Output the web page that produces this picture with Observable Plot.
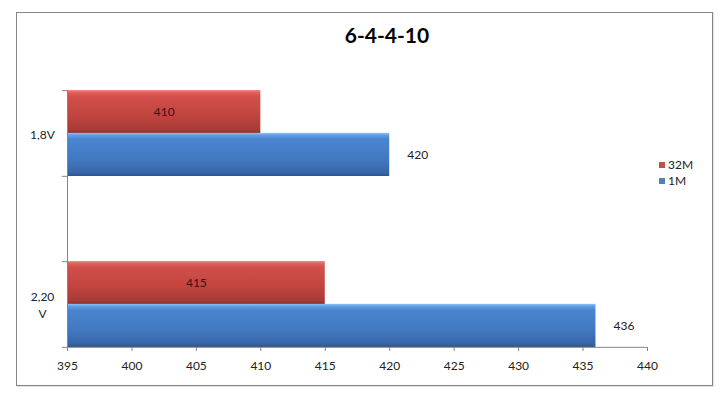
<!DOCTYPE html>
<html>
<head>
<meta charset="utf-8">
<script src="https://cdn.jsdelivr.net/npm/d3@7"></script>
<script src="https://cdn.jsdelivr.net/npm/@observablehq/plot@0.6"></script>
<style>
  html, body { margin: 0; padding: 0; background: #fff; }
  #wrap { position: relative; width: 726px; height: 398px; font-family: Lato, "Open Sans", sans-serif; }
  #border { position: absolute; left: 16px; top: 12px; width: 695px; height: 372px; border: 1px solid #868686; pointer-events: none; box-shadow: 1px 1px 1px #e4e4e4; }
  #title { position: absolute; left: 287px; width: 200px; top: 22px; text-align: center; font-weight: bold; font-size: 21px; color: #000; }
  #legend { position: absolute; left: 659px; top: 157px; font-size: 12px; color: #222; line-height: 16px; }
  #legend .sw { display: inline-block; width: 6px; height: 6px; margin-right: 3px; vertical-align: 1px; }
  #chart { position: absolute; left: 0; top: 0; }
</style>
</head>
<body>
<div id="wrap">
  <div id="chart"></div>
  <div id="border"></div>
  <div id="title"></div>
  <div id="legend"></div>
</div>
<script>
const title = "6-4-4-10";
const categories = ["1,8V", "2,20 V"];
const seriesNames = ["32M", "1M"];
const values32M = [410, 415];
const values1M = [420, 436];
const xTicks = [395, 400, 405, 410, 415, 420, 425, 430, 435, 440];
const baseline = 395;
const xMax = 440;
const seriesColors = ["#c0504d", "#4f81bd"];

const rows32 = categories.map((c, i) => ({cat: c, value: values32M[i]}));
const rows1 = categories.map((c, i) => ({cat: c, value: values1M[i]}));

const barH = 257 / 3 / 2; // one bar's height in px (a category band holds 2 bars)

const plot = Plot.plot({
  width: 726,
  height: 398,
  marginLeft: 67,
  marginRight: 79,
  marginTop: 90,
  marginBottom: 51,
  style: {background: "transparent", fontFamily: "Lato, 'Open Sans', sans-serif", fontSize: "12px", color: "#222"},
  x: {domain: [baseline, xMax], ticks: xTicks, tickSize: 4, tickPadding: 10, label: null},
  y: {domain: categories, paddingInner: 0.5, paddingOuter: 0, axis: null},
  marks: [
    Plot.barX(rows32, {y: "cat", x1: () => baseline, x2: "value", fill: "url(#gRed)", insetBottom: barH, insetTop: 0}),
    Plot.barX(rows1, {y: "cat", x1: () => baseline, x2: "value", fill: "url(#gBlue)", insetTop: barH, insetBottom: 0}),
    Plot.ruleX([baseline], {stroke: "#868686"}),
    Plot.ruleY(categories, {y: d => d, x1: () => baseline - 0.4, x2: () => baseline, dy: -barH, stroke: "#868686"}),
    Plot.ruleY(categories, {y: d => d, x1: () => baseline - 0.4, x2: () => baseline, dy: barH, stroke: "#868686"}),
    Plot.ruleY(categories.slice(-1), {y: d => d, x1: () => baseline, x2: () => xMax, dy: barH, stroke: "#868686"}),
    Plot.text(categories, {y: d => d, x: () => baseline, dx: -25, text: d => d.replace(" ", "\n"), textAnchor: "middle", lineHeight: 1.4, fill: "#222", fontSize: 12}),
    Plot.text(rows32, {y: "cat", x: d => (baseline + d.value) / 2, text: d => String(d.value), dy: -barH / 2, textAnchor: "middle", fill: "#3a1010", fontSize: 12}),
    Plot.text(rows1, {y: "cat", x: "value", text: d => String(d.value), dy: barH / 2, dx: 28, textAnchor: "middle", fill: "#222", fontSize: 12})
  ]
});

const svg = d3.select(plot);
const defs = svg.insert("defs", ":first-child");
function grad(id, stops) {
  const g = defs.append("linearGradient").attr("id", id).attr("x1", 0).attr("y1", 0).attr("x2", 0).attr("y2", 1);
  stops.forEach(([o, c]) => g.append("stop").attr("offset", o).attr("stop-color", c));
}
grad("gRed", [[0, "#f08a86"], [0.06, "#e0605c"], [0.15, "#d24f4b"], [0.6, "#c0443f"], [0.92, "#a83a36"], [1, "#8c2e2b"]]);
grad("gBlue", [[0, "#8ec2f5"], [0.06, "#5e9be0"], [0.15, "#4a84d0"], [0.6, "#4279c1"], [0.92, "#3766a8"], [1, "#2c548c"]]);
svg.selectAll("g[aria-label='x-axis tick'] path, g[aria-label='x-axis'] path").attr("stroke", "#868686");

document.getElementById("chart").appendChild(plot);
document.getElementById("title").textContent = title;
document.getElementById("legend").innerHTML = seriesNames.map((s, i) =>
  `<div><span class="sw" style="background:${seriesColors[i]}"></span>${s}</div>`).join("");
</script>
</body>
</html>
